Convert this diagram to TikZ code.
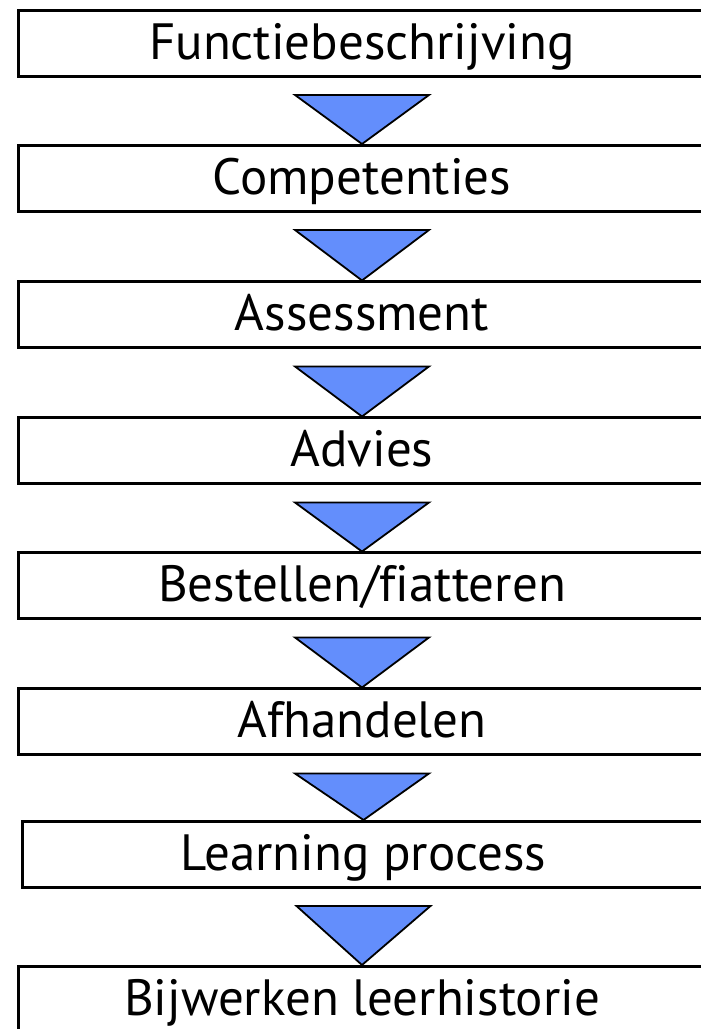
\documentclass[tikz,border=0pt]{standalone}
\usepackage{fontspec}
\setmainfont{PT Sans}[Ligatures=CommonOff]
\usetikzlibrary{calc}
\definecolor{flowblue}{RGB}{99,142,252}
\tikzset{
  stage/.style={draw=black, line width=3pt, minimum width=688pt, minimum height=66pt, inner sep=0pt,
    text height=36pt, text depth=4pt, font=\fontsize{51}{55}\selectfont},
  flowtri/.style={draw=black, line width=1.8pt, fill=flowblue, line join=miter}
}
\begin{document}
\begin{tikzpicture}[x=1pt, y=1pt]
  \useasboundingbox (0,0) rectangle (701,1029);

  % process stages
  \node[stage] (b1) at (362, 985.5) {Functiebeschrijving};
  \node[stage] (b2) at (362, 850.5) {Competenties};
  \node[stage] (b3) at (362, 714) {Assessment};
  \node[stage] (b4) at (362, 578) {Advies};
  \node[stage] (b5) at (362, 443) {Bestellen/fiatteren};
  \node[stage] (b6) at (362, 307) {Afhandelen};
  \node[stage, minimum width=682pt] (b7) at (363.5, 174.5) {Learning process};
  \node[stage] (b8) at (362, 29.5) {Bijwerken leerhistorie};

  % arrows between stages
  \foreach \a/\b in {b1/b2, b2/b3, b3/b4, b4/b5, b5/b6, b6/b7, b7/b8} {
    \draw[flowtri] ($(\a.south)+(-67,-17)$) -- ($(\a.south)+(67,-17)$) -- (\b.north) -- cycle;
  }
\end{tikzpicture}
\end{document}
